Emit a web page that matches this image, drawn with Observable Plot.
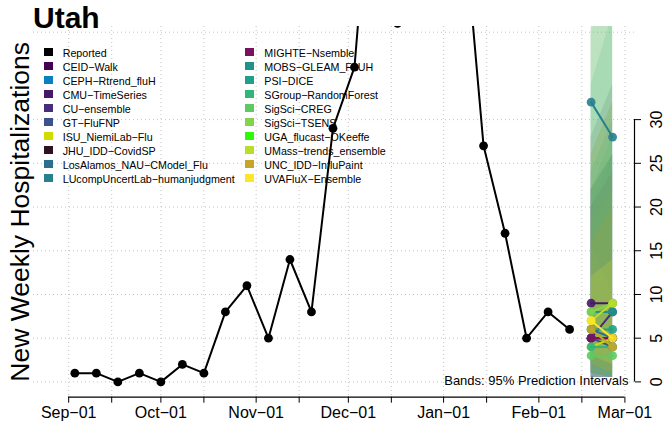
<!DOCTYPE html>
<html>
<head>
<meta charset="utf-8">
<script src="https://cdn.jsdelivr.net/npm/d3@7"></script>
<script src="https://cdn.jsdelivr.net/npm/@observablehq/plot@0.6"></script>
<style>
  body { margin: 0; background: #fff; font-family: "Liberation Sans", Arial, sans-serif; }
  #wrap { position: relative; width: 666px; height: 433px; overflow: hidden; }
  #title { position: absolute; left: 33px; top: 3px; font-weight: bold; font-size: 30px; line-height: 30px; }
  .leg { position: absolute; font-size: 10.7px; line-height: 14px; white-space: nowrap; color: #000; }
  .sw { position: absolute; width: 9px; height: 8px; }
</style>
</head>
<body>
<div id="wrap"><div id="title">Utah</div></div>
<script>
// ---------- data ----------
const reportedDates = ["2022-09-03","2022-09-10","2022-09-17","2022-09-24","2022-10-01","2022-10-08","2022-10-15","2022-10-22","2022-10-29","2022-11-05","2022-11-12","2022-11-19","2022-11-26","2022-12-03","2022-12-10","2022-12-17","2022-12-24","2022-12-31","2023-01-07","2023-01-14","2023-01-21","2023-01-28","2023-02-04","2023-02-11"];
const reportedValues = [1,1,0,1,0,2,1,8,11,5,14,8,29,36,66,41,50,58,55,27,17,5,8,6];

const models = ["CEID−Walk","CEPH−Rtrend_fluH","CMU−TimeSeries","CU−ensemble","GT−FluFNP","ISU_NiemiLab−Flu","JHU_IDD−CovidSP","LosAlamos_NAU−CModel_Flu","LUcompUncertLab−humanjudgment","MIGHTE−Nsemble","MOBS−GLEAM_FLUH","PSI−DICE","SGroup−RandomForest","SigSci−CREG","SigSci−TSENS","UGA_flucast−OKeeffe","UMass−trends_ensemble","UNC_IDD−InfluPaint","UVAFluX−Ensemble"];
const modelColors = ["#440154","#0b80c0","#481868","#472d7b","#3b528b","#d0dc00","#2f1222","#2c6e8f","#27808e","#7a1160","#20928c","#1fa088","#31b57b","#5ec962","#84d44b","#2dfa07","#b8de29","#c6a628","#fde725"];

const forecastDates = ["2023-02-18","2023-02-25"];
const pointWeek1 = [5,5,9,5,5,4,null,6,32,5,8,6,4,3,8,null,7,6,7];
const pointWeek2 = [5,5,9,8,4,5,null,5,28,5,8,6,4,3,9,null,9,4,5];
const lowerWeek1 = [0.5,0.5,2,1,0.5,1,null,1,16,0.5,2,1,0.5,0.5,1,null,2,2,3];
const upperWeek1 = [22,16,28,26,22,18,null,20,50,20,24,22,34,40,48,null,26,16,12];
const lowerWeek2 = [0.5,0.5,1,0.5,0.5,0.5,null,0.5,10,0.5,1,0.5,0.5,0.5,0.5,null,1,1,2];
const upperWeek2 = [26,20,34,32,26,22,null,26,48,24,30,28,42,46,56,null,32,20,14];

const monthTicks = ["2022-09-01","2022-10-01","2022-11-01","2022-12-01","2023-01-01","2023-02-01","2023-03-01"];
const midTicks = ["2022-09-15","2022-10-15","2022-11-15","2022-12-15","2023-01-15","2023-02-15"];
const yTicks = [0,5,10,15,20,25,30];
const yGrid = [0,5,10,15,20,25,30,40];
const yLabel = "New Weekly Hospitalizations";
const bandNote = "Bands: 95% Prediction Intervals";

// ---------- build ----------
const P = s => new Date(s + "T00:00:00Z");
const reported = reportedDates.map((d, i) => ({date: P(d), value: reportedValues[i]}));
const tickDates = [...monthTicks, ...midTicks].map(P).sort((a, b) => a - b);
const monthDates = monthTicks.map(P);

const fc = [];
const bands = [];
models.forEach((m, i) => {
  if (pointWeek1[i] == null) return;
  fc.push({model: m, color: modelColors[i], date: P(forecastDates[0]), value: pointWeek1[i], order: i});
  fc.push({model: m, color: modelColors[i], date: P(forecastDates[1]), value: pointWeek2[i], order: i});
  bands.push({model: m, color: modelColors[i], date: P(forecastDates[0]), lo: lowerWeek1[i], hi: upperWeek1[i]});
  bands.push({model: m, color: modelColors[i], date: P(forecastDates[1]), lo: lowerWeek2[i], hi: upperWeek2[i]});
});

const day = 864e5;
const xDomain = [new Date(+monthDates[0] - 11.45 * day), new Date(+monthDates[monthDates.length - 1] + 3.12 * day)];
const yDomain = [-1.75, 40.65];
const fmt = d => d3.utcFormat("%b")(d) + "−" + d3.utcFormat("%d")(d);

const perModelMarks = [];
models.forEach((m, i) => {
  const rows = fc.filter(r => r.order === i);
  if (!rows.length) return;
  perModelMarks.push(Plot.line(rows, {x: "date", y: "value", stroke: modelColors[i], strokeWidth: 2, clip: true}));
  perModelMarks.push(Plot.dot(rows, {x: "date", y: "value", fill: modelColors[i], r: 4.4, fillOpacity: 0.9, clip: true}));
});

const chart = Plot.plot({
  width: 666,
  height: 433,
  marginLeft: 33,
  marginRight: 32,
  marginTop: 26,
  marginBottom: 36.3,
  style: {fontFamily: "Liberation Sans, Arial, sans-serif", fontSize: "16px", background: "white", color: "black"},
  x: {type: "utc", domain: xDomain, ticks: tickDates, tickFormat: d => d.getUTCDate() === 1 ? fmt(d) : "", tickSize: 6, tickPadding: 3, label: null},
  y: {domain: yDomain, axis: "right", ticks: yTicks, tickFormat: () => "", tickSize: 6, label: null},
  color: {type: "identity"},
  marks: [
    Plot.ruleX(tickDates, {stroke: "#c4c4c4", strokeDasharray: "1,3", strokeWidth: 1}),
    Plot.ruleY(yGrid, {stroke: "#c4c4c4", strokeDasharray: "1,3", strokeWidth: 1}),
    Plot.areaY(bands, {x: "date", y1: "lo", y2: "hi", z: "model", fill: "color", fillOpacity: 0.16, clip: true}),
    Plot.line(reported, {x: "date", y: "value", stroke: "black", strokeWidth: 2, clip: true}),
    Plot.dot(reported, {x: "date", y: "value", fill: "black", r: 4.4, clip: true}),
    ...perModelMarks,
    Plot.ruleY([yDomain[0]], {x1: monthDates[0], x2: monthDates[monthDates.length - 1], stroke: "black", strokeWidth: 1.2}),
    Plot.ruleX([xDomain[1]], {y1: yTicks[0], y2: yTicks[yTicks.length - 1], stroke: "black", strokeWidth: 1.2}),
    Plot.text(yTicks, {y: d => d, text: d => String(d), frameAnchor: "right", textAnchor: "middle", lineAnchor: "middle", rotate: -90, dx: 22, fontSize: 16}),
    Plot.text([yLabel], {frameAnchor: "left", textAnchor: "middle", lineAnchor: "middle", rotate: -90, dx: -12.5, fontSize: 26.5}),
    Plot.text([bandNote], {frameAnchor: "bottom-right", textAnchor: "end", lineAnchor: "middle", dx: -6, dy: -16, fontSize: 13})
  ]
});

const wrap = document.getElementById("wrap");
wrap.insertBefore(chart, wrap.firstChild);
chart.style.position = "absolute";
chart.style.left = "0px";
chart.style.top = "0px";

// ---------- legend (HTML) ----------
const legendNames = ["Reported", ...models];
const legendColors = ["#000000", ...modelColors];
legendNames.forEach((name, i) => {
  const col = i < 10 ? 0 : 1;
  const row = i < 10 ? i : i - 10;
  const sx = col === 0 ? 44 : 245;
  const tx = col === 0 ? 62.7 : 264.3;
  const sw = document.createElement("div");
  sw.className = "sw";
  sw.style.left = sx + "px";
  sw.style.top = (48 + 14 * row) + "px";
  sw.style.background = legendColors[i];
  wrap.appendChild(sw);
  const t = document.createElement("div");
  t.className = "leg";
  t.style.left = tx + "px";
  t.style.top = (45.8 + 14 * row) + "px";
  t.textContent = name;
  wrap.appendChild(t);
});
</script>
</body>
</html>
